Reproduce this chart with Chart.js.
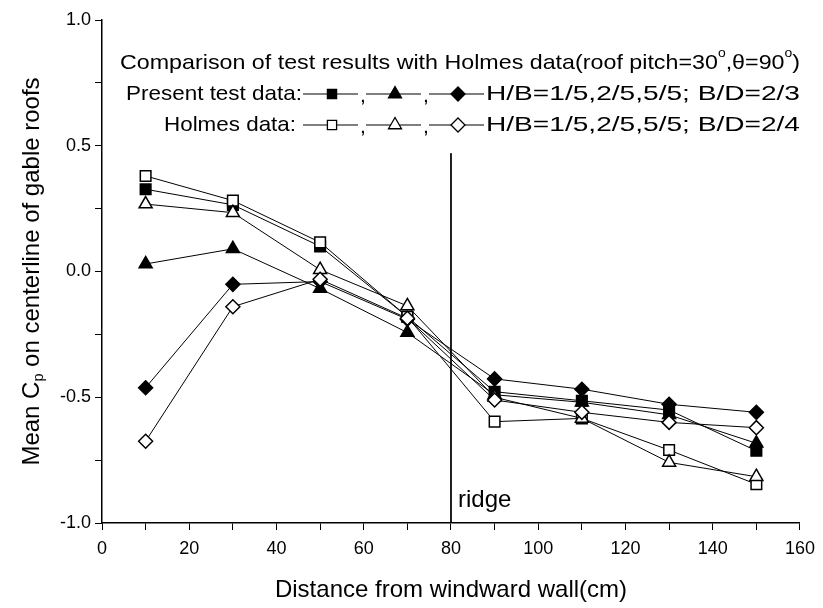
<!DOCTYPE html>
<html>
<head>
<meta charset="utf-8">
<script src="https://cdn.jsdelivr.net/npm/chart.js@4"></script>
<style>
  html, body { margin: 0; padding: 0; background: #fff; }
  #wrap { width: 823px; height: 608px; }
</style>
</head>
<body>
<div id="wrap"><canvas id="cp"></canvas></div>
<script>
// distance from windward wall (cm)
const distances = [10, 30, 50, 70, 90, 110, 130, 150];

// present test data, H/B = 1/5, 2/5, 5/5 (B/D = 2/3)
const presentHB15 = [0.327, 0.265, 0.10, -0.18, -0.478, -0.514, -0.551, -0.713];
const presentHB25 = [0.03, 0.09, -0.068, -0.243, -0.49, -0.52, -0.57, -0.683];
const presentHB55 = [-0.462, -0.051, -0.04, -0.19, -0.427, -0.468, -0.528, -0.56];

// Holmes data, H/B = 1/5, 2/5, 5/5 (B/D = 2/4)
const holmesHB15 = [0.38, 0.282, 0.116, -0.18, -0.597, -0.584, -0.71, -0.846];
const holmesHB25 = [0.268, 0.234, 0.007, -0.137, -0.50, -0.584, -0.759, -0.816];
const holmesHB55 = [-0.675, -0.14, -0.031, -0.186, -0.511, -0.56, -0.6, -0.621];

// ridge position and the extent of its marker line
const ridgeX = 80;
const ridgeSpan = [0.47, -1.0];

const FONT = "'Liberation Sans', Arial, 'DejaVu Sans', sans-serif";

function pts(ys) {
  return ys.map((y, i) => ({ x: distances[i], y: y }));
}

function series(label, ys, shape, filled, r) {
  return {
    label: label,
    data: pts(ys),
    borderColor: '#000',
    borderWidth: 1,
    pointStyle: shape,
    pointRadius: r,
    pointBorderWidth: 1.5,
    pointBorderColor: '#000',
    pointBackgroundColor: filled ? '#000' : '#fff',
    tension: 0,
    fill: false
  };
}

function partFont(p, size) {
  return ((p.sup || p.sub) ? size * 0.6 : size) + 'px ' + FONT;
}

// text pieces (with super/subscripts) squeezed or stretched to span x0..x1
function fitText(ctx, parts, x0, x1, y, size) {
  let w = 0;
  parts.forEach(p => { ctx.font = partFont(p, size); w += ctx.measureText(p.t).width; });
  ctx.save();
  ctx.translate(x0, y);
  ctx.scale((x1 - x0) / w, 1);
  let x = 0;
  parts.forEach(p => {
    ctx.font = partFont(p, size);
    let dy = 0;
    if (p.sup) dy = -size * 0.45;
    if (p.sub) dy = size * 0.3;
    ctx.fillText(p.t, x, dy);
    x += ctx.measureText(p.t).width;
  });
  ctx.restore();
}

// one "—marker—," group of a legend row
function legendGroup(ctx, cx, y, style, filled, r, comma) {
  ctx.lineWidth = 1.2;
  ctx.beginPath();
  ctx.moveTo(cx - 29, y); ctx.lineTo(cx + 26, y);
  ctx.stroke();
  ctx.fillStyle = filled ? '#000' : '#fff';
  ctx.lineWidth = 1.3;
  Chart.helpers.drawPoint(ctx, { pointStyle: style, radius: r, borderWidth: 1.3, rotation: 0 }, cx, y);
  ctx.fillStyle = '#000';
  if (comma) {
    ctx.font = '21px ' + FONT;
    ctx.fillText(',', cx + 28, y + 2);
  }
}

const annotations = {
  id: 'annotations',
  afterDraw(chart) {
    const ctx = chart.ctx;
    const xs = chart.scales.x, ys = chart.scales.y;
    const area = chart.chartArea;
    ctx.save();
    ctx.fillStyle = '#000';
    ctx.strokeStyle = '#000';
    ctx.textBaseline = 'middle';
    ctx.textAlign = 'left';

    fitText(ctx, [
      { t: 'Comparison of test results with Holmes data(roof pitch=30' },
      { t: 'o', sup: true },
      { t: ',\u03b8=90' },
      { t: 'o', sup: true },
      { t: ')' }
    ], 120, 800, 63, 21);

    const rows = [
      { y: 94, x0: 126, label: 'Present test data:', filled: true, tail: 'H/B=1/5,2/5,5/5; B/D=2/3' },
      { y: 125, x0: 164, label: 'Holmes data:', filled: false, tail: 'H/B=1/5,2/5,5/5; B/D=2/4' }
    ];
    rows.forEach(row => {
      fitText(ctx, [{ t: row.label }], row.x0, row.filled ? 302 : 296, row.y, 21);
      legendGroup(ctx, 332, row.y, 'rect', row.filled, 6.5, true);
      legendGroup(ctx, 395, row.y, 'triangle', row.filled, 7.5, true);
      legendGroup(ctx, 458, row.y, 'rectRot', row.filled, 7, false);
      fitText(ctx, [{ t: row.tail }], 486, 800, row.y, 21);
    });

    // ridge label
    ctx.font = '24px ' + FONT;
    ctx.fillText('ridge', xs.getPixelForValue(ridgeX) + 7, ys.getPixelForValue(-0.91));

    // x axis title
    ctx.textAlign = 'center';
    ctx.font = '24px ' + FONT;
    ctx.fillText('Distance from windward wall(cm)', (area.left + area.right) / 2, 590);

    // y axis title, rotated
    const mid = (area.top + area.bottom) / 2;
    ctx.translate(32, mid);
    ctx.rotate(-Math.PI / 2);
    ctx.textAlign = 'left';
    const parts = [
      { t: 'Mean C' },
      { t: 'p', sub: true },
      { t: ' on centerline of gable roofs' }
    ];
    let w = 0;
    parts.forEach(p => { ctx.font = partFont(p, 24); w += ctx.measureText(p.t).width; });
    fitText(ctx, parts, -w / 2, w / 2, 0, 24);
    ctx.restore();
  }
};

new Chart(document.getElementById('cp'), {
  type: 'line',
  data: {
    datasets: [
      {
        label: 'ridge',
        data: ridgeSpan.map(y => ({ x: ridgeX, y: y })),
        borderColor: '#000',
        borderWidth: 1,
        pointRadius: 0
      },
      series('Holmes H/B=5/5', holmesHB55, 'rectRot', false, 7),
      series('Holmes H/B=2/5', holmesHB25, 'triangle', false, 7.5),
      series('Holmes H/B=1/5', holmesHB15, 'rect', false, 7.5),
      series('Present H/B=5/5', presentHB55, 'rectRot', true, 7),
      series('Present H/B=2/5', presentHB25, 'triangle', true, 7.5),
      series('Present H/B=1/5', presentHB15, 'rect', true, 7.5)
    ]
  },
  plugins: [annotations],
  options: {
    responsive: true,
    maintainAspectRatio: false,
    animation: false,
    layout: { padding: { top: 20, right: 18, left: 0, bottom: 0 } },
    plugins: {
      legend: { display: false },
      tooltip: { enabled: false }
    },
    scales: {
      x: {
        type: 'linear',
        min: 0,
        max: 160,
        afterFit(scale) { scale.height = 85; },
        grid: { drawOnChartArea: false, drawTicks: true, tickLength: 7, color: '#000' },
        border: { display: true, color: '#000', width: 1.5 },
        ticks: {
          stepSize: 10,
          autoSkip: false,
          maxRotation: 0,
          padding: 8,
          color: '#000',
          font: { family: FONT, size: 18 },
          callback: v => (v % 20 === 0 ? String(v) : '')
        }
      },
      y: {
        min: -1,
        max: 1,
        afterFit(scale) { scale.width = 102; },
        grid: { drawOnChartArea: false, drawTicks: true, tickLength: 7, color: '#000' },
        border: { display: true, color: '#000', width: 1.5 },
        ticks: {
          stepSize: 0.25,
          autoSkip: false,
          padding: 4,
          color: '#000',
          font: { family: FONT, size: 18 },
          callback: v => (Math.abs(v * 2 - Math.round(v * 2)) < 1e-9 ? v.toFixed(1) : '')
        }
      }
    }
  }
});
</script>
</body>
</html>
